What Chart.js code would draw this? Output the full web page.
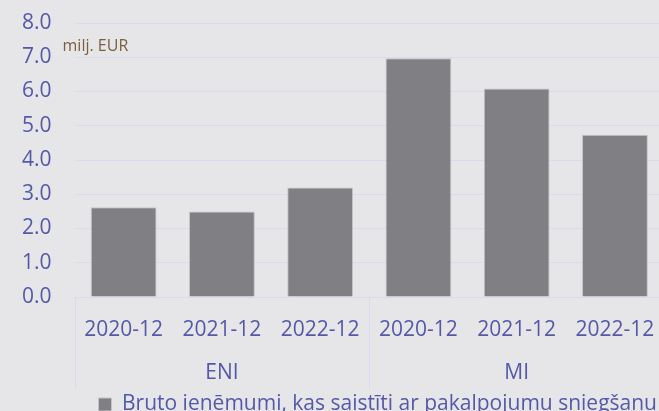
<!DOCTYPE html>
<html>
<head>
<meta charset="utf-8">
<script src="https://cdn.jsdelivr.net/npm/chart.js@4"></script>
<style>
  html, body { margin: 0; padding: 0; background: #e6e6e9; overflow: hidden; }
  #wrap { width: 675px; height: 425px; }
</style>
</head>
<body>
<div id="wrap"><canvas id="grafico"></canvas></div>
<script>
/* Datos */
var anos = ['2020-12', '2021-12', '2022-12', '2020-12', '2021-12', '2022-12'];
var grupos = ['ENI', 'MI'];
var valores = [2.62, 2.50, 3.20, 6.97, 6.09, 4.74];
var nombreSerie = 'Bruto ieņēmumi, kas saistīti ar pakalpojumu sniegšanu';
var unidad = 'milj. EUR';

var azul = '#5558a8';
var lila = '#d9d9ef';
var gris = '#807f84';

// lineas separadoras de grupos y texto de unidad
var extras = {
    id: 'extras',
    afterDraw: function (chart) {
        var ctx = chart.ctx;
        var x = chart.scales.x;
        var area = chart.chartArea;
        var mitad = (x.getPixelForValue(2) + x.getPixelForValue(3)) / 2;
        ctx.save();
        ctx.strokeStyle = lila;
        ctx.lineWidth = 1;
        [area.left, mitad, area.right].forEach(function (px) {
            ctx.beginPath();
            ctx.moveTo(Math.round(px) + 0.5, area.bottom);
            ctx.lineTo(Math.round(px) + 0.5, area.bottom + 92);
            ctx.stroke();
        });
        ctx.fillStyle = '#7b5d3f';
        ctx.font = '16px "Open Sans"';
        ctx.textBaseline = 'middle';
        ctx.fillText(unidad, area.left - 12, chart.scales.y.getPixelForValue(7.32));
        ctx.restore();
    }
};

var marco = document.getElementById('grafico').getContext('2d');

var grafico = new Chart(marco, {
    type: 'bar',
    data: {
        labels: anos,
        datasets: [{
            label: nombreSerie,
            data: valores,
            backgroundColor: gris,
            borderColor: '#c4c4c8',
            borderWidth: 1,
            barPercentage: 0.67,
            categoryPercentage: 1
        }]
    },
    options: {
        responsive: true,
        maintainAspectRatio: false,
        animation: false,
        layout: { padding: { top: 23, left: 22, right: 8, bottom: 0 } },
        plugins: {
            legend: {
                position: 'bottom',
                align: 'end',
                labels: {
                    color: azul,
                    font: { family: 'Open Sans', size: 21 },
                    boxWidth: 13,
                    boxHeight: 13,
                    padding: 10
                }
            },
            tooltip: { enabled: false }
        },
        scales: {
            x: {
                grid: { display: false, drawTicks: false },
                border: { color: lila },
                afterFit: function (s) { s.height = 41; },
                ticks: {
                    color: azul,
                    padding: 20,
                    maxRotation: 0,
                    autoSkip: false,
                    font: { family: 'Open Sans', size: 21 }
                }
            },
            x2: {
                type: 'category',
                labels: grupos,
                position: 'bottom',
                offset: true,
                grid: { display: false, drawTicks: false },
                border: { display: false },
                afterFit: function (s) { s.height = 46; },
                ticks: {
                    color: azul,
                    padding: 22,
                    font: { family: 'Open Sans', size: 21 }
                }
            },
            y: {
                min: 0,
                max: 8,
                grid: { color: lila, lineWidth: 1, drawTicks: true, tickLength: 23, tickColor: 'rgba(0,0,0,0)' },
                border: { display: false },
                ticks: {
                    stepSize: 1,
                    autoSkip: false,
                    color: azul,
                    padding: 0,
                    font: { family: 'Open Sans', size: 21 },
                    callback: function (v) { return v.toFixed(1); }
                }
            }
        }
    },
    plugins: [extras]
});
</script>
</body>
</html>
